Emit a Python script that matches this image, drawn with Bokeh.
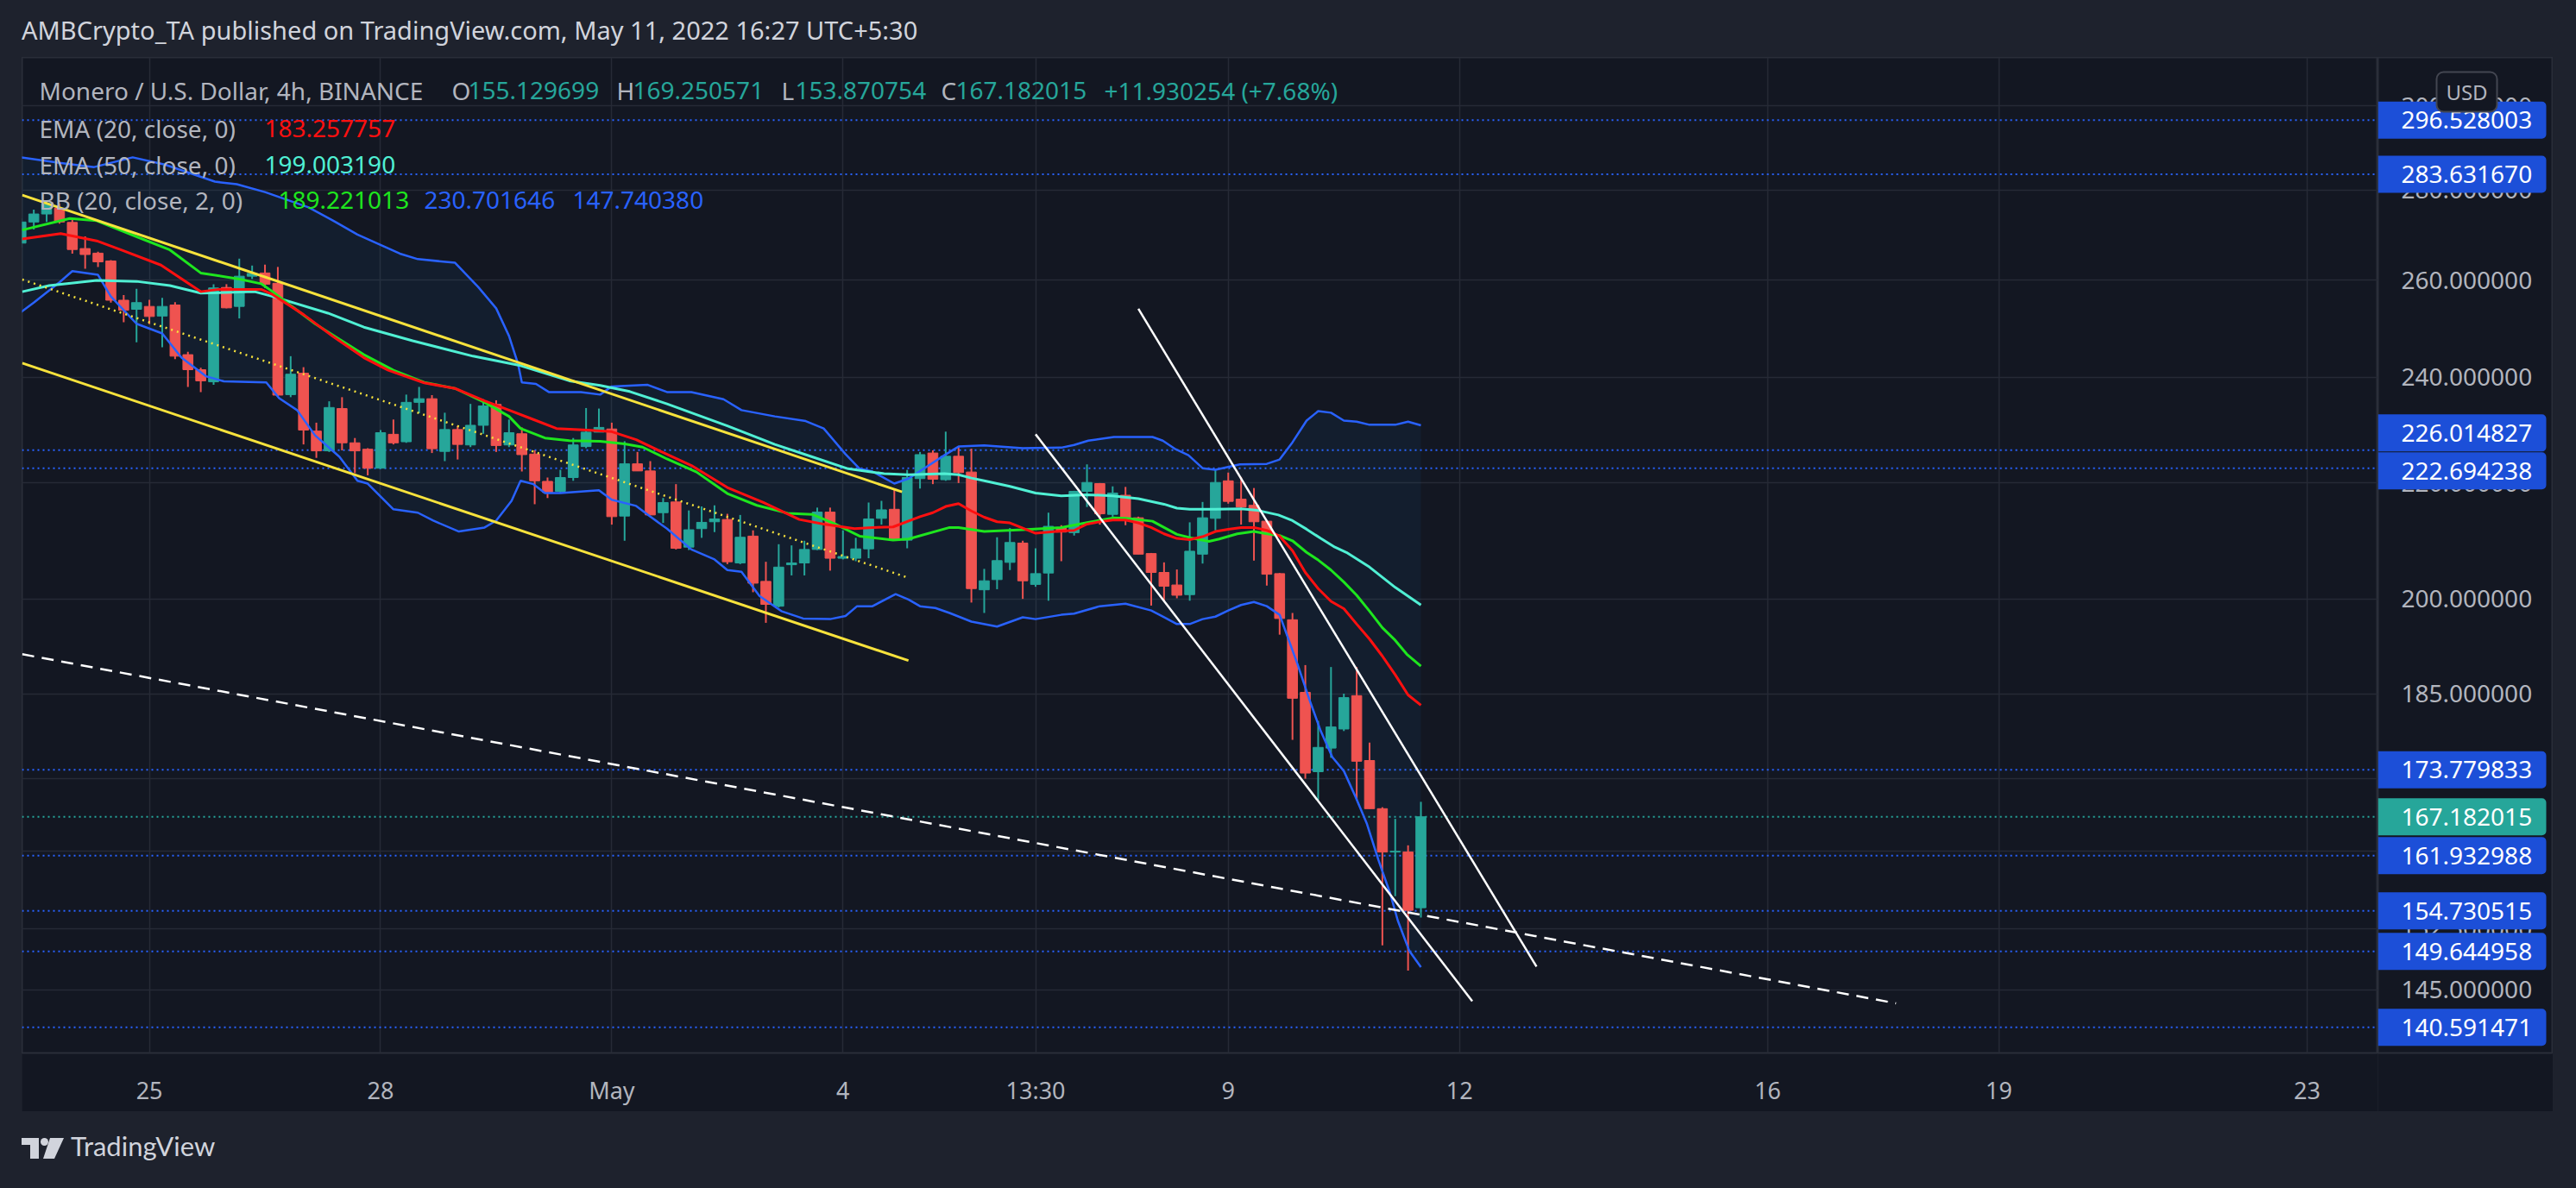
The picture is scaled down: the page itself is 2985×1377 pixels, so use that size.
import math
from bokeh.plotting import figure
from bokeh.models import Range1d, FixedTicker, Span, Label, Div, ColumnDataSource
from bokeh.layouts import column, row
from bokeh.core.properties import value
from bokeh.embed import file_html
from bokeh.resources import INLINE

# ---------------- data ----------------
# x = 4h bar number, bar 0 = first bar of Apr 25
bar = list(range(-10, 100))
opens = [268.0, 272.7, 274.5, 275.8, 272.6, 266.8, 265.8, 264.1, 255.7, 253.8,
         254.4, 252.4, 254.7, 244.5, 241.5, 239.1, 258.4, 254.4, 260.8, 261.5,
         259.3, 236.6, 240.8, 229.6, 225.9, 233.9, 227.4, 226.2, 222.7, 229.0,
         227.6, 235.1, 235.8, 225.8, 229.9, 227.0, 230.7, 234.7, 227.0, 229.1,
         225.3, 220.3, 218.5, 221.0, 226.7, 229.4, 230.0, 214.1, 223.5, 222.2,
         214.7, 216.6, 208.7, 211.9, 213.1, 213.5, 206.0, 210.6, 202.9, 198.8,
         205.7, 206.0, 208.3, 214.8, 206.8, 206.8, 208.4, 213.7, 215.3, 209.9,
         220.8, 225.5, 220.6, 224.9, 222.0, 201.5, 203.2, 206.1, 209.4, 202.4,
         204.3, 212.1, 211.2, 218.5, 219.9, 214.4, 217.8, 213.8, 207.6, 204.4,
         202.3, 200.7, 207.5, 213.7, 220.4, 217.1, 216.0, 213.2, 204.2, 196.6,
         185.2, 173.5, 176.9, 179.7, 184.7, 175.1, 168.3, 162.4, 162.4, 155.129699]
highs = [273.5, 275.5, 277.6, 276.8, 273.5, 269.5, 266.1, 264.3, 256.8, 258.1,
         255.8, 256.2, 255.3, 245.1, 241.9, 259.1, 259.1, 264.6, 263.1, 263.3,
         262.8, 244.2, 242.0, 231.2, 235.3, 236.1, 228.3, 226.4, 229.8, 231.8,
         236.6, 238.1, 236.5, 233.1, 230.6, 234.8, 235.7, 235.5, 231.8, 230.3,
         226.0, 221.0, 222.4, 228.3, 234.0, 233.9, 231.2, 227.7, 225.7, 224.0,
         217.3, 219.8, 215.1, 215.8, 216.0, 214.5, 214.3, 211.6, 206.2, 209.2,
         209.0, 209.8, 215.6, 215.6, 211.6, 210.3, 216.5, 216.8, 219.0, 222.4,
         225.7, 226.0, 229.5, 226.7, 226.3, 205.0, 210.4, 212.0, 209.8, 208.5,
         214.7, 212.5, 218.6, 223.4, 220.0, 219.4, 219.3, 214.0, 207.7, 206.1,
         204.9, 213.0, 216.6, 222.5, 221.9, 221.1, 219.1, 213.3, 204.3, 197.7,
         189.4, 180.9, 189.1, 185.0, 189.1, 177.7, 168.5, 166.9, 163.3, 169.250571]
lows = [267.0, 271.0, 272.7, 272.3, 265.7, 262.4, 262.8, 255.2, 251.1, 247.0,
        250.7, 246.0, 243.6, 238.1, 237.1, 238.5, 254.0, 251.9, 260.2, 258.3,
        236.3, 236.1, 227.1, 224.6, 225.7, 226.0, 221.8, 221.4, 222.6, 227.1,
        227.4, 233.0, 225.5, 224.0, 224.3, 226.6, 229.1, 225.7, 226.6, 222.1,
        216.2, 217.3, 218.2, 220.4, 226.4, 229.4, 212.6, 209.8, 222.2, 214.3,
        212.9, 208.3, 208.2, 210.3, 211.3, 205.8, 205.8, 201.1, 196.1, 198.6,
        203.9, 203.9, 208.2, 204.7, 206.6, 206.3, 206.8, 212.6, 209.8, 208.5,
        219.0, 219.8, 220.4, 220.0, 199.4, 197.7, 201.6, 204.8, 200.0, 202.0,
        199.7, 206.3, 210.7, 215.7, 212.6, 213.9, 212.5, 207.5, 198.9, 199.6,
        200.1, 199.7, 205.9, 211.6, 216.3, 212.6, 206.4, 202.2, 194.2, 178.1,
        172.5, 169.5, 175.5, 179.4, 169.5, 168.3, 150.4, 156.6, 147.3, 153.870754]
closes = [272.7, 274.5, 276.8, 272.7, 266.6, 265.5, 263.9, 255.7, 253.6, 255.2,
          252.3, 254.4, 244.2, 241.5, 239.3, 258.3, 254.1, 260.8, 261.4, 259.1,
          236.5, 240.6, 229.8, 225.9, 234.1, 227.4, 225.9, 222.7, 229.3, 227.4,
          235.1, 235.8, 226.3, 229.9, 227.1, 230.7, 234.4, 226.9, 229.3, 225.2,
          220.4, 218.3, 221.0, 227.0, 229.4, 230.3, 214.0, 223.5, 222.2, 214.3,
          216.5, 208.5, 211.7, 213.0, 213.6, 206.2, 210.4, 202.6, 199.1, 205.3,
          206.0, 208.3, 214.8, 206.8, 207.1, 208.4, 213.6, 215.2, 210.0, 221.0,
          225.2, 220.7, 224.9, 221.9, 201.7, 203.0, 206.4, 209.5, 203.0, 204.2,
          212.3, 211.3, 218.5, 220.1, 214.5, 218.2, 213.7, 207.5, 204.4, 202.1,
          200.6, 208.0, 213.8, 220.1, 216.7, 215.7, 213.1, 204.1, 196.8, 184.3,
          173.3, 177.0, 180.0, 184.4, 175.0, 168.3, 162.4, 162.5, 154.8, 167.182015]

ema20_bar = [-9.9, -6.9, -4.1, -2.2, 0.9, 4, 5.4, 8.7, 9.6, 12, 14.3, 16.7, 18.6, 21.4, 23.8, 26.1, 28,
             29.9, 31.7, 34.1, 36, 37.9, 39.8, 42.2, 45, 47.8, 50.6, 52.5, 54.9, 56.3, 57.9, 60, 61, 62,
             63, 64, 65, 66, 67, 68, 69, 71, 72, 73, 74, 75, 76, 77, 78, 79, 80, 81, 82, 83, 84, 85, 86,
             87, 88, 89, 90, 91, 92, 93, 94, 95, 96, 97, 98, 99]
ema20_val = [268.9, 270.1, 268.5, 266.5, 263.2, 257.5, 258.0, 258.0, 256.9, 252.7, 248.2, 243.9, 241.4,
             238.9, 237.8, 235.4, 233.6, 231.8, 230.1, 229.8, 229.5, 228.0, 225.8, 223.2, 219.2, 216.5,
             213.5, 212.7, 211.9, 212.1, 212.2, 214.0, 214.7, 215.8, 216.3, 215.0, 213.9, 213.1, 212.9,
             212.0, 211.1, 211.5, 211.6, 212.7, 213.1, 213.4, 213.4, 212.9, 212.1, 211.0, 210.2, 210.0,
             210.5, 211.4, 211.8, 212.1, 212.1, 211.6, 210.6, 208.1, 204.4, 201.7, 199.6, 198.4, 195.9,
             193.5, 190.8, 187.9, 184.8, 183.257757]

ema50_bar = [-9.9, -7.8, -4.1, -1, 1.6, 4, 8.2, 9.6, 13.9, 16.7, 20.5, 25.2, 28.9, 32.7, 35.1, 37.4, 40.3,
             45, 48.7, 51.6, 54.4, 57.2, 59.1, 61.9, 63, 64, 65, 67, 69, 71, 73, 75, 77, 79, 80, 81, 83,
             85, 86.3, 87.9, 89, 90.1, 91.2, 92.3, 93.2, 95, 97, 99]
ema50_val = [257.5, 258.8, 259.9, 259.7, 258.8, 257.2, 257.5, 256.5, 253.0, 250.1, 247.3, 244.2, 242.3,
             239.3, 238.4, 237.2, 234.8, 230.6, 227.1, 224.8, 222.6, 221.7, 221.5, 221.7, 221.5, 220.9,
             220.4, 219.4, 218.2, 217.7, 217.9, 217.7, 217.2, 216.2, 215.5, 215.3, 215.3, 215.4, 215.1,
             214.3, 213.3, 211.8, 210.2, 208.7, 207.8, 205.3, 201.9, 199.003190]

bb_mid_bar = [-9.9, -6.2, -4.1, -0.8, 1.6, 4, 7, 8.7, 9.6, 11, 12.9, 14.8, 16.7, 19, 21.4, 23.8, 26.1,
              28, 28.9, 30.8, 32.7, 35.1, 37, 38.4, 40.3, 42.6, 45, 47.3, 49.7, 51.6, 53.4, 55.3, 57.9,
              59.1, 62.3, 63, 65, 68, 71, 73.1, 75.1, 76.1, 78.1, 80, 81.1, 82.5, 83.3, 84.7, 86, 87, 88,
              89, 90.1, 91, 92, 93, 94, 95, 96, 97, 97.9, 99]
bb_mid_val = [270.9, 273.5, 273.0, 269.2, 266.5, 261.5, 260.2, 259.2, 257.5, 254.6, 250.8, 247.6, 244.5,
              241.4, 239.0, 237.8, 235.1, 232.4, 230.1, 228.3, 227.8, 227.7, 227.2, 226.6, 224.4, 222.0,
              218.1, 216.0, 214.6, 214.4, 212.7, 210.6, 209.9, 210.1, 212.1, 212.1, 211.4, 211.7, 212.1,
              213.0, 213.8, 213.7, 213.2, 210.9, 210.3, 209.7, 210.1, 211.0, 211.4, 211.0, 210.7, 209.8,
              207.8, 206.5, 204.8, 202.8, 200.6, 198.0, 195.3, 193.3, 191.1, 189.221013]

bb_up_bar = [-10, -7, -4.3, -1.3, 1.2, 5.1, 6.8, 9, 12.4, 14.5, 16.2, 19.5, 20.9, 23.8, 25.6, 27, 28,
             28.7, 29, 30.1, 31.1, 33.6, 35.1, 36, 38.8, 40.3, 42.2, 44.7, 46.1, 48.7, 51.1, 52.5, 54.2,
             55.3, 56.3, 58, 59.1, 61.9, 63, 65, 68, 71, 72, 73.1, 75.1, 78.1, 78.9, 79.9, 80.9, 82, 83,
             84.9, 87, 88, 89, 90.1, 91, 92, 93, 94, 95, 97, 98, 99]
bb_up_val = [287.6, 286.3, 285.3, 287.6, 285.9, 281.9, 281.3, 279.5, 276.0, 272.7, 269.9, 265.7, 264.5,
             263.7, 258.5, 254.0, 248.3, 242.7, 239.0, 238.7, 237.1, 237.1, 236.6, 238.2, 238.5, 237.1,
             237.1, 235.7, 233.6, 232.4, 231.5, 230.1, 225.3, 222.6, 222.1, 219.9, 220.8, 225.1, 226.7,
             226.9, 226.4, 226.5, 227.0, 227.8, 228.5, 228.5, 227.8, 226.2, 225.1, 222.7, 222.4, 223.4,
             223.5, 224.3, 227.5, 231.6, 233.4, 233.1, 231.6, 231.4, 230.8, 230.8, 231.4, 230.701646]

bb_lo_bar = [-10, -9, -7, -6, -4, -3, -1, 1, 2.5, 4.4, 5.8, 9.1, 10.1, 11.5, 12.9, 14.8, 16.2, 17, 19,
             20.9, 22.1, 24.1, 26.1, 27, 28.2, 28.9, 29.9, 30.8, 32, 35, 36, 37.9, 39, 40.3, 42.2, 44, 45,
             46.1, 47.5, 49.2, 50.9, 53, 54.2, 55.1, 56.3, 58.1, 59.1, 60, 61.2, 62.3, 64, 66, 68, 69,
             71, 72, 74, 76, 78, 79, 80, 81, 82, 83, 84, 85, 86, 87, 88, 89.4, 90.3, 91.2, 92.1, 93, 93.9,
             94.8, 95.7, 96.6, 97.2, 98.1, 99]
bb_lo_val = [253.2, 255.2, 259.5, 261.9, 261.1, 256.5, 250.8, 248.8, 243.9, 240.2, 239.2, 239.0, 235.9,
             233.6, 228.8, 224.8, 220.4, 219.9, 215.3, 214.7, 213.3, 211.4, 212.1, 213.3, 216.8, 220.4,
             219.8, 218.2, 218.2, 218.7, 217.0, 215.9, 214.0, 211.9, 208.3, 206.6, 204.8, 204.5, 200.5,
             198.0, 196.8, 196.7, 197.2, 198.8, 198.8, 200.8, 199.9, 198.8, 198.5, 197.7, 196.3, 195.5,
             197.0, 196.7, 197.4, 197.6, 198.8, 199.2, 198.1, 197.0, 195.9, 195.9, 196.7, 197.1, 198.1,
             199.0, 199.5, 198.8, 197.4, 189.5, 184.2, 179.4, 175.6, 173.6, 170.0, 166.2, 161.3, 157.0,
             153.5, 149.7, 147.740380]

# drawn levels and trend lines (bar, price)
levels = [296.528003, 283.631670, 226.014827, 222.694238, 173.779833, 161.932988,
          154.730515, 149.644958, 140.591471]
last_price = 167.182015
channel_upper = ([-9.9, 58.6], [278.8, 218.4])
channel_lower = ([-9.9, 59.1], [242.8, 190.1])
channel_mid = ([-9.9, 59.1], [260.1, 203.5])
wedge_lower = ([69.0, 103.0], [229.0, 143.65])
wedge_upper = ([77.0, 108.0], [253.9, 147.8])
support_line = ([-9.9, 136.0], [191.1, 143.4])

date_tick_bars = [0, 18, 36, 54, 69, 84, 102, 126, 144, 168]
date_tick_labels = ["25", "28", "May", "4", "13:30", "9", "12", "16", "19", "23"]
price_ticks = [145, 152.5, 162.5, 172.5, 185, 200, 220, 240, 260, 280, 300]

# ---------------- layout constants ----------------
BG = "#131722"
OUTER = "#1e222d"
UP = "#26a69a"
DOWN = "#ef5350"
TAGBLUE = "#1c4fd8"
GRAY = "#b2b5be"
FONT = "Noto Sans"

PANE_L, PANE_R, PANE_T, PANE_B = 25, 2755, 66, 1220   # page pixels
AXIS_R, AXIS_B = 2958, 1288
FIG_H = AXIS_B - PANE_T
X0 = (PANE_L - 172.6) / 14.883
X1 = (PANE_R - 172.6) / 14.883
Y0 = 260 * math.exp((324 - PANE_B) / 1409)
Y1 = 260 * math.exp((324 - PANE_T) / 1409)
K = (PANE_B - PANE_T) / math.log(Y1 / Y0)   # px per ln-unit


def sx(px):
    return X0 + (px - PANE_L) * (X1 - X0) / (PANE_R - PANE_L)


def sy(py):
    f = (PANE_B - py) / (PANE_B - PANE_T)
    return math.exp(math.log(Y0) + f * (math.log(Y1) - math.log(Y0)))


yr = Range1d(Y0, Y1)
p = figure(width=PANE_R - PANE_L, height=FIG_H, x_range=Range1d(X0, X1), y_range=yr,
           y_axis_type="log", y_axis_location=None, output_backend="svg",
           toolbar_location=None, min_border_left=0, min_border_top=0, min_border_right=0,
           min_border_bottom=AXIS_B - PANE_B,
           background_fill_color=BG, border_fill_color=BG, outline_line_color="#2a2e39",
           outline_line_width=2, margin=(0, 0, 0, PANE_L))

xax = p.xaxis[0]
xax.ticker = FixedTicker(ticks=date_tick_bars)
xax.major_label_overrides = {k: v for k, v in zip(date_tick_bars, date_tick_labels)}
xax.axis_line_color = None
xax.major_tick_line_color = None
xax.minor_tick_line_color = None
xax.major_label_text_color = GRAY
xax.major_label_text_font = FONT
xax.major_label_text_font_size = "27px"
xax.major_label_standoff = 18
p.xgrid.grid_line_color = "#262a36"
p.xgrid.grid_line_width = 1.5
for g in p.ygrid:
    g.ticker = FixedTicker(ticks=price_ticks)
    g.grid_line_color = "#262a36"
    g.grid_line_width = 1.5

# horizontal drawn levels
for lv in levels:
    p.add_layout(Span(location=lv, dimension="width", line_color="#2962ff", line_width=2,
                      line_dash="2 4", level="underlay"))
p.add_layout(Span(location=last_price, dimension="width", line_color=UP, line_width=2,
                  line_dash="2 4", level="underlay"))

# Bollinger background
p.patch(x=bb_up_bar + bb_lo_bar[::-1], y=bb_up_val + bb_lo_val[::-1],
        fill_color="#2196f3", fill_alpha=0.06, line_color=None)

# candles
colors = [UP if c >= o else DOWN for o, c in zip(opens, closes)]
src = ColumnDataSource(dict(x=bar, o=opens, h=highs, l=lows, c=closes, col=colors,
                            top=[max(o, c) for o, c in zip(opens, closes)],
                            bot=[min(o, c) for o, c in zip(opens, closes)]))
p.segment(x0="x", y0="l", x1="x", y1="h", color="col", line_width=2, source=src)
p.vbar(x="x", width=0.78, top="top", bottom="bot", fill_color="col", line_color="col",
       line_width=1, source=src)

# indicators
p.line(bb_up_bar, bb_up_val, line_color="#2962ff", line_width=2.5)
p.line(bb_lo_bar, bb_lo_val, line_color="#2962ff", line_width=2.5)
p.line(ema50_bar, ema50_val, line_color="#50f0d4", line_width=3)
p.line(bb_mid_bar, bb_mid_val, line_color="#1ee61e", line_width=3)
p.line(ema20_bar, ema20_val, line_color="#ff1010", line_width=3)

# drawings
p.line(*channel_upper, line_color="#f7e23c", line_width=3)
p.line(*channel_lower, line_color="#f7e23c", line_width=3)
p.line(*channel_mid, line_color="#f7e23c", line_width=2.5, line_dash="2 5")
p.line(*wedge_lower, line_color="#ffffff", line_width=2.5)
p.line(*wedge_upper, line_color="#ffffff", line_width=2.5)
p.line(*support_line, line_color="#ffffff", line_width=2.5, line_dash="14 9")

# legend texts in the pane
legend_items = [
    ("Monero / U.S. Dollar, 4h, BINANCE", 45, 104, GRAY),
    ("O", 523, 104, GRAY), ("155.129699", 542, 104, UP),
    ("H", 714, 104, GRAY), ("169.250571", 733, 104, UP),
    ("L", 905, 104, GRAY), ("153.870754", 921, 104, UP),
    ("C", 1090, 104, GRAY), ("167.182015", 1107, 104, UP),
    ("+11.930254 (+7.68%)", 1279, 104, UP),
    ("EMA (20, close, 0)", 45, 148, GRAY), ("183.257757", 306, 148, "#ff1010"),
    ("EMA (50, close, 0)", 45, 190, GRAY), ("199.003190", 306, 190, "#50f0d4"),
    ("BB (20, close, 2, 0)", 45, 231, GRAY), ("189.221013", 322, 231, "#1ee61e"),
    ("230.701646", 491, 231, "#2962ff"), ("147.740380", 663, 231, "#2962ff"),
]
for txt, px, py, col in legend_items:
    p.add_layout(Label(x=sx(px), y=sy(py), text=txt, text_font=FONT, text_font_size="28px",
                       text_color=col, text_align="left", text_baseline="middle", level="overlay"))

# ---------------- price scale panel ----------------
AW = AXIS_R - PANE_R
q = figure(width=AW, height=FIG_H, x_range=Range1d(0, AW), y_range=yr, y_axis_type="log",
           x_axis_location=None, y_axis_location=None, output_backend="svg",
           toolbar_location=None, min_border_left=0, min_border_top=0, min_border_right=0,
           min_border_bottom=AXIS_B - PANE_B, background_fill_color=BG, border_fill_color=BG,
           outline_line_color="#2a2e39", outline_line_width=2, margin=(0, 0, 0, 0))
for g in q.xgrid + q.ygrid:
    g.visible = False

q.text(x=[27] * len(price_ticks), y=price_ticks, text=[f"{t:.6f}" for t in price_ticks],
       text_font=value(FONT), text_font_size="28px", text_color=GRAY,
       text_align="left", text_baseline="middle")

tag_vals = levels + [last_price]
tag_cols = [TAGBLUE] * len(levels) + [UP]
tag_nudge = {226.014827: 20, 222.694238: -3}
tag_y = [v * math.exp(tag_nudge.get(v, 0) / K) for v in tag_vals]
half = math.exp(21.5 / K)
tag_src = ColumnDataSource(dict(y=tag_y, top=[y * half for y in tag_y], bot=[y / half for y in tag_y],
                                col=tag_cols, txt=[f"{v:.6f}" for v in tag_vals]))
try:
    q.quad(left=0, right=195, top="top", bottom="bot", fill_color="col", line_color=None,
           border_radius=(0, 5, 5, 0), source=tag_src)
except Exception:
    q.quad(left=0, right=195, top="top", bottom="bot", fill_color="col", line_color=None,
           source=tag_src)
q.text(x=27, y="y", text="txt", text_font=value(FONT), text_font_size="28px", text_color="#ffffff",
       text_align="left", text_baseline="middle", source=tag_src)

usd_y = sy(106)
uh = math.exp(23 / K)
try:
    q.quad(left=68, right=138, top=usd_y * uh, bottom=usd_y / uh, fill_color=BG,
           line_color="#434651", line_width=2, border_radius=8)
except Exception:
    q.quad(left=68, right=138, top=usd_y * uh, bottom=usd_y / uh, fill_color=BG,
           line_color="#434651", line_width=2)
q.text(x=[103], y=[usd_y], text=["USD"], text_font=value(FONT), text_font_size="24px",
       text_color=GRAY, text_align="center", text_baseline="middle")

title_div = Div(
    text=('<div style="position:relative;width:2985px;height:66px;">'
          '<div style="position:absolute;left:25px;top:20px;font-family:\'Noto Sans\';'
          'font-size:29px;line-height:1;color:#d1d4dc;white-space:nowrap;">'
          'AMBCrypto_TA published on TradingView.com, May 11, 2022 16:27 UTC+5:30</div></div>'),
    width=2985, height=PANE_T, margin=(0, 0, 0, 0))

logo_div = Div(
    text=('<div style="position:relative;width:2985px;height:89px;">'
          '<svg style="position:absolute;left:25px;top:31px" width="50" height="25" viewBox="0 0 50 25">'
          '<path d="M0 0H20V24H10V8H0Z" fill="#d1d4dc"/>'
          '<circle cx="26.5" cy="4.5" r="4.5" fill="#d1d4dc"/>'
          '<path d="M33 0H49L38 24H25Z" fill="#d1d4dc"/></svg>'
          '<div style="position:absolute;left:82px;top:25px;font-family:Lato;font-size:31px;'
          'line-height:1;color:#d1d4dc;white-space:nowrap;">TradingView</div></div>'),
    width=2985, height=1377 - AXIS_B, margin=(0, 0, 0, 0))

layout = column(title_div, row(p, q, spacing=0), logo_div, width=2985, height=1377, spacing=0,
                styles={"background-color": OUTER})

html = file_html(layout, INLINE, "Monero / U.S. Dollar")
html = html.replace("<body>", '<body style="margin:0;background:%s;">' % OUTER)
open("out.html", "w").write(html)
